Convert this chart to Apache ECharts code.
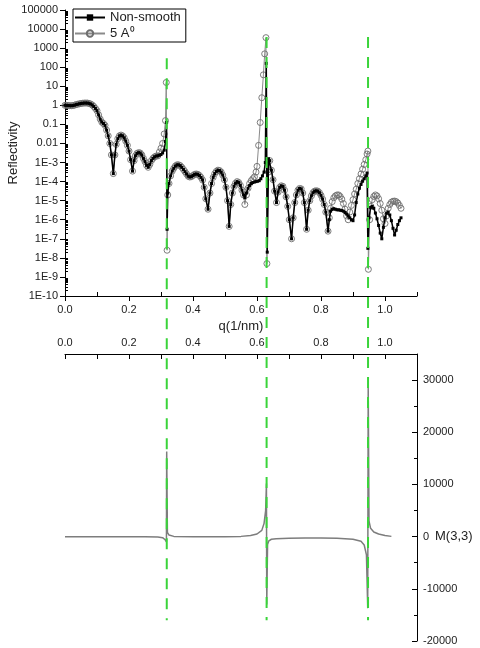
<!DOCTYPE html>
<html>
<head>
<meta charset="utf-8">
<script src="https://cdn.jsdelivr.net/npm/echarts@6/dist/echarts.min.js"></script>
<style>
  html, body { margin: 0; padding: 0; background: #fff; }
  #chart { width: 480px; height: 648px; }
</style>
</head>
<body>
<div id="chart"></div>
<script>
// reflectivity curves, stored as [q (1/nm), log10(R)]
// parts where both curves lie on top of each other
const refLow = [
  [0.000, 0.00], [0.005, 0.00], [0.010, -0.01], [0.015, -0.02], [0.020, -0.02], [0.025, -0.01],
  [0.030, 0.01], [0.035, 0.04], [0.040, 0.06], [0.045, 0.08], [0.050, 0.10], [0.055, 0.11],
  [0.060, 0.12], [0.065, 0.12], [0.070, 0.12], [0.075, 0.10], [0.080, 0.07], [0.085, 0.02],
  [0.090, -0.06], [0.095, -0.16], [0.100, -0.28], [0.105, -0.50], [0.110, -0.72], [0.115, -0.88],
  [0.120, -0.95], [0.125, -1.05], [0.130, -1.30], [0.135, -1.60], [0.140, -2.00], [0.145, -2.60],
  [0.151, -3.58], [0.156, -2.60], [0.160, -2.05], [0.165, -1.75], [0.170, -1.60], [0.175, -1.56],
  [0.180, -1.60], [0.185, -1.70], [0.190, -1.88], [0.195, -2.10], [0.200, -2.40], [0.205, -2.85],
  [0.211, -3.45], [0.216, -2.90], [0.220, -2.65], [0.225, -2.52], [0.230, -2.48], [0.235, -2.50],
  [0.240, -2.60], [0.245, -2.78], [0.250, -2.95], [0.255, -3.15], [0.260, -3.25], [0.265, -3.10],
  [0.270, -2.90], [0.275, -2.78], [0.280, -2.70], [0.285, -2.66], [0.290, -2.65]
];
const refMid = [
  [0.325, -4.10], [0.330, -3.70], [0.335, -3.45], [0.340, -3.30], [0.345, -3.18], [0.350, -3.12],
  [0.355, -3.12], [0.360, -3.16], [0.365, -3.25], [0.370, -3.36], [0.375, -3.48], [0.380, -3.60],
  [0.385, -3.72], [0.390, -3.76], [0.395, -3.74], [0.400, -3.68], [0.405, -3.62], [0.410, -3.60],
  [0.415, -3.62], [0.420, -3.68], [0.425, -3.78], [0.430, -3.92], [0.435, -4.30], [0.440, -4.90],
  [0.447, -5.45], [0.453, -4.60], [0.458, -4.10], [0.463, -3.78], [0.468, -3.58], [0.473, -3.46],
  [0.478, -3.40], [0.483, -3.42], [0.488, -3.50], [0.493, -3.66], [0.498, -3.90], [0.503, -4.30],
  [0.508, -5.00], [0.513, -6.35], [0.518, -5.20], [0.523, -4.60], [0.528, -4.25], [0.533, -4.08],
  [0.538, -4.00], [0.543, -4.05], [0.548, -4.20], [0.553, -4.45], [0.558, -4.70]
];
const refHigh = [
  [0.640, -2.90], [0.645, -3.40], [0.650, -3.90], [0.655, -4.50], [0.661, -5.10], [0.666, -4.55],
  [0.671, -4.30], [0.676, -4.22], [0.681, -4.25], [0.686, -4.45], [0.691, -4.80], [0.696, -5.30],
  [0.701, -6.00], [0.708, -7.00], [0.713, -5.90], [0.718, -5.10], [0.723, -4.70], [0.728, -4.45],
  [0.733, -4.36], [0.738, -4.38], [0.743, -4.60], [0.748, -5.10], [0.755, -6.50], [0.760, -5.50],
  [0.765, -5.00], [0.770, -4.75], [0.775, -4.58], [0.780, -4.50], [0.785, -4.48], [0.790, -4.50],
  [0.795, -4.58], [0.800, -4.72], [0.805, -4.92], [0.810, -5.20], [0.815, -5.60], [0.822, -6.60]
];

// Non-smooth only parts
const nonSmoothPeak1 = [
  [0.295, -2.62], [0.300, -2.58], [0.305, -2.50], [0.310, -2.35], [0.314, -1.90],
  [0.3175, -0.90], [0.319, -6.50], [0.321, -4.60]
];
const nonSmoothPeak2 = [
  [0.562, -4.85], [0.567, -4.60], [0.572, -4.35], [0.577, -4.20], [0.582, -4.10], [0.587, -4.05],
  [0.592, -4.02], [0.597, -4.00], [0.602, -3.98], [0.607, -3.95], [0.612, -3.85], [0.617, -3.70],
  [0.622, -3.50], [0.626, -3.00], [0.629, 2.20], [0.632, -7.70], [0.636, -2.80]
];
const nonSmoothTail = [
  [0.826, -6.00], [0.830, -5.55], [0.835, -5.45], [0.840, -5.42], [0.845, -5.45], [0.850, -5.48],
  [0.855, -5.48], [0.860, -5.50], [0.865, -5.52], [0.870, -5.55], [0.875, -5.62], [0.880, -5.70],
  [0.885, -5.80], [0.890, -5.90], [0.895, -6.00], [0.900, -6.05], [0.905, -5.75], [0.910, -5.10],
  [0.915, -4.65], [0.920, -4.35], [0.925, -4.15], [0.930, -3.98], [0.935, -3.85], [0.940, -3.70],
  [0.944, -3.55], [0.9465, -7.50], [0.950, -5.90], [0.955, -5.35], [0.960, -5.30], [0.965, -5.40],
  [0.970, -5.65], [0.975, -5.95], [0.980, -6.30], [0.985, -6.70], [0.990, -7.00], [0.995, -6.40],
  [1.000, -5.90], [1.005, -5.65], [1.010, -5.60], [1.015, -5.75], [1.020, -6.05], [1.025, -6.45],
  [1.030, -6.80], [1.035, -6.55], [1.040, -6.25], [1.045, -6.05], [1.050, -5.90]
];

// 5 A only parts
const fiveAPeak1 = [
  [0.295, -2.45], [0.300, -2.25], [0.305, -2.00], [0.310, -1.50], [0.314, -0.80],
  [0.3165, 1.20], [0.319, -7.60], [0.321, -4.70]
];
const fiveAPeak2 = [
  [0.562, -5.20], [0.567, -4.70], [0.572, -4.35], [0.577, -4.10], [0.582, -3.95], [0.587, -3.85],
  [0.592, -3.75], [0.597, -3.50], [0.600, -3.20], [0.605, -2.10], [0.610, -0.90], [0.615, 0.40],
  [0.620, 1.60], [0.624, 2.70], [0.628, 3.55], [0.631, -8.30], [0.636, -3.50]
];
const fiveATail = [
  [0.826, -5.90], [0.830, -5.40], [0.835, -5.05], [0.840, -4.85], [0.845, -4.75], [0.850, -4.70],
  [0.855, -4.70], [0.860, -4.78], [0.865, -4.92], [0.870, -5.15], [0.875, -5.45], [0.880, -5.80],
  [0.885, -6.00], [0.890, -5.60], [0.895, -5.25], [0.900, -4.95], [0.905, -4.65], [0.910, -4.40],
  [0.915, -4.10], [0.920, -3.85], [0.925, -3.60], [0.930, -3.35], [0.935, -3.10], [0.940, -2.85],
  [0.944, -2.55], [0.9465, -2.40], [0.948, -8.60], [0.952, -6.00], [0.956, -5.30], [0.960, -4.95],
  [0.965, -4.78], [0.970, -4.70], [0.975, -4.75], [0.980, -4.90], [0.985, -5.15], [0.990, -5.50],
  [0.995, -5.95], [1.000, -6.20], [1.005, -5.80], [1.010, -5.40], [1.015, -5.20], [1.020, -5.08],
  [1.025, -5.03], [1.030, -5.02], [1.035, -5.05], [1.040, -5.12], [1.045, -5.25], [1.050, -5.40]
];

// M(3,3), [q, value]
const m33 = [
  [0.000, 0], [0.050, 0], [0.100, 0], [0.150, 0], [0.200, 0], [0.250, 0], [0.290, -50],
  [0.305, -200], [0.313, -600], [0.317, -1000], [0.3178, 16300], [0.320, 800], [0.325, 300],
  [0.340, 50], [0.400, 0], [0.450, 0], [0.500, 0], [0.550, 50], [0.580, 200], [0.600, 500],
  [0.615, 1200], [0.622, 2500], [0.627, 5000], [0.6295, 10200], [0.6305, -13000], [0.633, -1500],
  [0.637, -800], [0.645, -500], [0.660, -400], [0.700, -300], [0.750, -250], [0.800, -250],
  [0.850, -300], [0.900, -500], [0.925, -900], [0.935, -1600], [0.942, -3500], [0.946, -13700],
  [0.9475, 28700], [0.950, 3000], [0.955, 1600], [0.965, 900], [0.980, 500], [1.000, 200], [1.020, 50]
];

// green guide lines: q position, start / end as fraction of page height
const guideQ = [0.318, 0.630, 0.947];
const guideStart = [0.09, 0.057, 0.057];
const guideEnd = [0.957, 0.957, 0.957];

const seriesNames = ['Non-smooth', '5 A\u2070'];

// ticks
const qMajor = [0, 0.2, 0.4, 0.6, 0.8, 1.0];
const qMajorLabels = ['0.0', '0.2', '0.4', '0.6', '0.8', '1.0'];
const qMinor = [0.1, 0.3, 0.5, 0.7, 0.9, 1.1];
const qAll = [0, 0.1, 0.2, 0.3, 0.4, 0.5, 0.6, 0.7, 0.8, 0.9, 1.0];
const rDecades = [-10, -9, -8, -7, -6, -5, -4, -3, -2, -1, 0, 1, 2, 3, 4, 5];
const rLabels = ['1E-10', '1E-9', '1E-8', '1E-7', '1E-6', '1E-5', '1E-4', '1E-3', '0.01', '0.1',
  '1', '10', '100', '1000', '10000', '100000'];
const mMajor = [-20000, -10000, 0, 10000, 20000, 30000];
const mLabels = ['-20000', '-10000', '0', '10000', '20000', '30000'];
const mMinor = [-15000, -5000, 5000, 15000, 25000];

const FONT = 'Liberation Sans, Arial, sans-serif';
const TXT = '#222';

const toR = pts => pts.map(p => [p[0], Math.pow(10, p[1])]);
const nonSmooth = toR([...refLow, ...nonSmoothPeak1, ...refMid, ...nonSmoothPeak2, ...refHigh, ...nonSmoothTail]);
const fiveA = toR([...refLow, ...fiveAPeak1, ...refMid, ...fiveAPeak2, ...refHigh, ...fiveATail]);

const rTickValues = rDecades.map(e => Math.pow(10, e));
const rMinorValues = [];
rDecades.slice(0, -1).forEach(e => {
  for (let k = 2; k <= 9; k++) rMinorValues.push(k * Math.pow(10, e));
});

function lookup(values, labels) {
  return v => {
    let best = 0;
    values.forEach((t, i) => { if (Math.abs(t - v) < Math.abs(values[best] - v)) best = i; });
    return labels[best];
  };
}
function rLabel(v) {
  const e = Math.round(Math.log10(v));
  return rLabels[rDecades.indexOf(e)];
}

const lineOn = { show: true, onZero: false, lineStyle: { color: '#000', width: 1 } };
const lineOff = { show: false, onZero: false };
const labelStyle = { color: TXT, fontSize: 11, fontFamily: FONT };
const nameStyle = { color: TXT, fontSize: 13, fontFamily: FONT };

const chart = echarts.init(document.getElementById('chart'));

chart.setOption({
  animation: false,
  backgroundColor: '#fff',
  textStyle: { fontFamily: FONT },
  grid: [
    { left: 65, right: 63, top: 10, bottom: 352, outerBoundsMode: 'none', containLabel: false },
    { left: 65, right: 63, top: 354, bottom: 7, outerBoundsMode: 'none', containLabel: false },
    { left: 65, right: 63, top: 0, bottom: 0, outerBoundsMode: 'none', containLabel: false }
  ],
  legend: {
    data: seriesNames,
    orient: 'vertical',
    left: 73,
    top: 9,
    itemWidth: 30,
    itemHeight: 8,
    itemGap: 3,
    padding: [2, 5, 2, 1],
    borderColor: '#000',
    borderWidth: 1,
    backgroundColor: '#fff',
    textStyle: { color: TXT, fontSize: 13, fontFamily: FONT }
  },
  xAxis: [
    {
      gridIndex: 0, type: 'value', min: 0, max: 1.1, position: 'bottom',
      axisLine: lineOn,
      axisTick: { show: true, inside: false, length: 5, customValues: qMajor, lineStyle: { color: '#000' } },
      axisLabel: { ...labelStyle, margin: 8, customValues: qMajor, formatter: lookup(qMajor, qMajorLabels) },
      splitLine: { show: false },
      name: 'q(1/nm)', nameLocation: 'middle', nameGap: 24, nameMoveOverlap: false,
      nameTextStyle: nameStyle
    },
    {
      gridIndex: 0, type: 'value', min: 0, max: 1.1, position: 'bottom', offset: 0,
      axisLine: lineOff,
      axisTick: { show: true, inside: true, length: 4, customValues: qMinor, lineStyle: { color: '#000' } },
      axisLabel: { show: false },
      splitLine: { show: false }
    },
    {
      gridIndex: 1, type: 'value', min: 0, max: 1.1, position: 'top',
      axisLine: lineOn,
      axisTick: { show: true, inside: true, length: 5, customValues: qAll, lineStyle: { color: '#000' } },
      axisLabel: { ...labelStyle, margin: 6, customValues: qMajor, formatter: lookup(qMajor, qMajorLabels) },
      splitLine: { show: false }
    },
    { gridIndex: 2, type: 'value', min: 0, max: 1.1, show: false }
  ],
  yAxis: [
    {
      gridIndex: 0, type: 'log', logBase: 10, min: 1e-10, max: 1e5, position: 'left',
      axisLine: lineOn,
      axisTick: { show: true, inside: false, length: 5, customValues: rTickValues, lineStyle: { color: '#000' } },
      axisLabel: { ...labelStyle, margin: 7, customValues: rTickValues, formatter: rLabel },
      splitLine: { show: false },
      name: 'Reflectivity', nameLocation: 'middle', nameGap: 45, nameMoveOverlap: false,
      nameTextStyle: nameStyle
    },
    {
      gridIndex: 0, type: 'log', logBase: 10, min: 1e-10, max: 1e5, position: 'left', offset: 0,
      axisLine: lineOff,
      axisTick: { show: true, inside: true, length: 3, customValues: rMinorValues, lineStyle: { color: '#000' } },
      axisLabel: { show: false },
      splitLine: { show: false }
    },
    {
      gridIndex: 1, type: 'value', min: -20000, max: 35000, position: 'right',
      axisLine: lineOn,
      axisTick: { show: true, inside: true, length: 5, customValues: mMajor, lineStyle: { color: '#000' } },
      axisLabel: { ...labelStyle, margin: 6, customValues: mMajor, formatter: lookup(mMajor, mLabels) },
      splitLine: { show: false }
    },
    {
      gridIndex: 1, type: 'value', min: -20000, max: 35000, position: 'right', offset: 0,
      axisLine: lineOff,
      axisTick: { show: true, inside: true, length: 3, customValues: mMinor, lineStyle: { color: '#000' } },
      axisLabel: { show: false },
      splitLine: { show: false }
    },
    { gridIndex: 2, type: 'value', min: 0, max: 1, inverse: true, show: false }
  ],
  graphic: [
    {
      type: 'text', left: 435, top: 530,
      style: { text: 'M(3,3)', fontSize: 13, fontFamily: FONT, fill: TXT }
    }
  ],
  series: [
    {
      name: seriesNames[1],
      type: 'line',
      xAxisIndex: 0, yAxisIndex: 0,
      data: fiveA,
      symbol: 'circle',
      symbolSize: 6,
      showAllSymbol: true,
      lineStyle: { color: '#8a8a8a', width: 1 },
      itemStyle: { color: 'rgba(255,255,255,0)', borderColor: '#6e6e6e', borderWidth: 0.9 },
      z: 2
    },
    {
      name: seriesNames[0],
      type: 'line',
      xAxisIndex: 0, yAxisIndex: 0,
      data: nonSmooth,
      symbol: 'rect',
      symbolSize: 3,
      showAllSymbol: true,
      lineStyle: { color: '#000', width: 1.5 },
      itemStyle: { color: '#000' },
      z: 3
    },
    {
      name: 'M(3,3)',
      type: 'line',
      xAxisIndex: 2, yAxisIndex: 2,
      data: m33,
      symbol: 'none',
      lineStyle: { color: '#7d7d7d', width: 1.5 },
      z: 2
    },
    ...guideQ.map((q, i) => ({
      name: 'guide' + i,
      type: 'line',
      xAxisIndex: 3, yAxisIndex: 4,
      data: [[q, guideStart[i]], [q, guideEnd[i]]],
      symbol: 'none',
      silent: true,
      lineStyle: { color: '#3ad43a', width: 2, type: [11, 9] },
      z: 5
    }))
  ]
});
</script>
</body>
</html>
